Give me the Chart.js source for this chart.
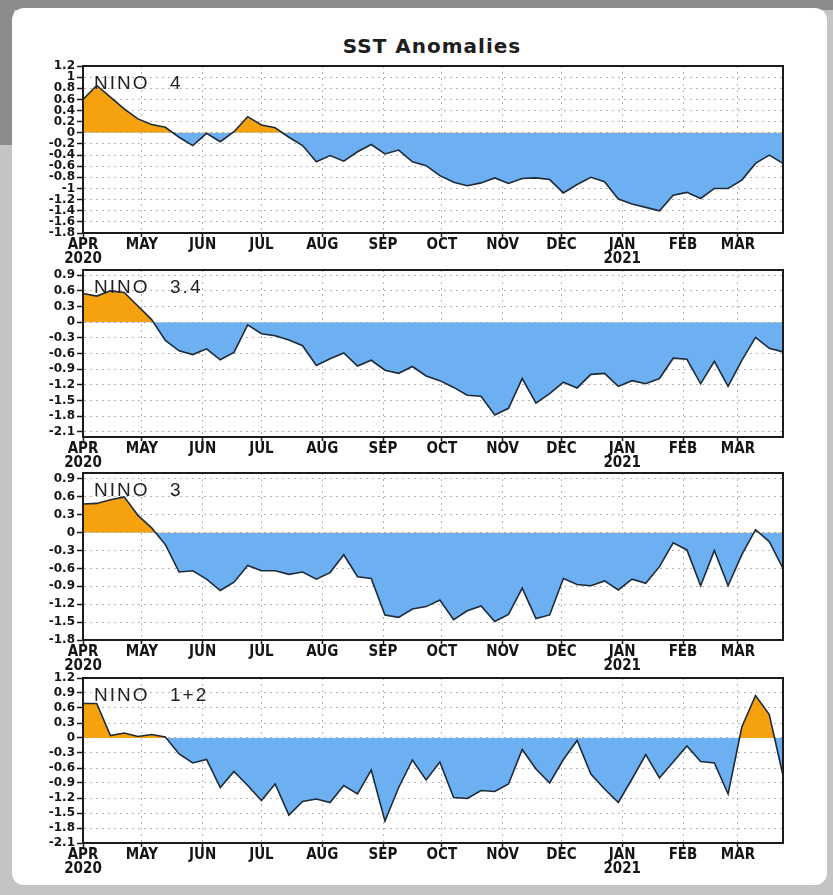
<!DOCTYPE html>
<html>
<head>
<meta charset="utf-8">
<script src="https://cdn.jsdelivr.net/npm/chart.js@4.4.1/dist/chart.umd.min.js"></script>
<style>
  html, body { margin: 0; padding: 0; }
  body { width: 833px; height: 895px; position: relative; overflow: hidden; background: #c4c4c4; }
  #topband { position: absolute; left: 0; top: 0; width: 833px; height: 10px; background: #8c8c8c; }
  #leftband { position: absolute; left: 0; top: 0; width: 14px; height: 145px; background: #8c8c8c; }
  #panel { position: absolute; left: 12px; top: 8px; width: 815px; height: 877px; background: #ffffff; border-radius: 12px; }
  #title { position: absolute; left: 0; top: 36px; width: 864px; text-align: center; font-family: 'DejaVu Sans', sans-serif; font-weight: bold; font-size: 20px; line-height: 20px; letter-spacing: 1px; color: #1e1e1e; }
  canvas { position: absolute; left: 0; }
  .lbl { position: absolute; left: 94px; font-family: 'Liberation Sans', Arial, sans-serif; font-size: 19px; line-height: 18px; letter-spacing: 2px; word-spacing: 3px; color: #222; white-space: pre; }
</style>
</head>
<body>
<div id="topband"></div>
<div id="leftband"></div>
<div id="panel"></div>
<div id="title">SST Anomalies</div>
<canvas id="c0" width="833" height="209"></canvas>
<canvas id="c1" width="833" height="209"></canvas>
<canvas id="c2" width="833" height="209"></canvas>
<canvas id="c3" width="833" height="207"></canvas>
<div class="lbl" id="l0"></div>
<div class="lbl" id="l1"></div>
<div class="lbl" id="l2"></div>
<div class="lbl" id="l3"></div>
<script>
// ---------- data ----------
// weekly values, weeks centred on Wednesdays from 1 Apr 2020 to 24 Mar 2021
const weekStart = '2020-04-01';
const panelNames = ['NINO  4', 'NINO  3.4', 'NINO  3', 'NINO  1+2'];

const nino4 = [0.6, 0.85, 0.64, 0.43, 0.25, 0.15, 0.1, -0.08, -0.23, -0.01, -0.16, 0.02,
  0.29, 0.14, 0.09, -0.08, -0.23, -0.52, -0.41, -0.51, -0.34, -0.21, -0.38, -0.31,
  -0.52, -0.59, -0.77, -0.89, -0.95, -0.9, -0.81, -0.91, -0.82, -0.81, -0.84, -1.08,
  -0.93, -0.8, -0.88, -1.19, -1.28, -1.34, -1.4, -1.12, -1.07, -1.18, -1.0, -1.0,
  -0.85, -0.55, -0.4, -0.55];

const nino34 = [0.55, 0.5, 0.6, 0.57, 0.31, 0.05, -0.35, -0.55, -0.62, -0.51, -0.72, -0.58,
  -0.05, -0.22, -0.26, -0.34, -0.45, -0.83, -0.7, -0.59, -0.84, -0.73, -0.92, -0.98,
  -0.85, -1.03, -1.12, -1.25, -1.4, -1.42, -1.78, -1.65, -1.08, -1.55, -1.37, -1.15,
  -1.26, -1.0, -0.98, -1.23, -1.12, -1.18, -1.08, -0.69, -0.71, -1.18, -0.75, -1.23,
  -0.73, -0.29, -0.5, -0.57];

const nino3 = [0.48, 0.49, 0.55, 0.6, 0.29, 0.08, -0.2, -0.66, -0.64, -0.78, -0.97, -0.83,
  -0.55, -0.64, -0.64, -0.7, -0.66, -0.78, -0.67, -0.37, -0.74, -0.77, -1.38, -1.42,
  -1.28, -1.24, -1.13, -1.46, -1.31, -1.23, -1.49, -1.37, -0.93, -1.44, -1.38, -0.77,
  -0.87, -0.89, -0.81, -0.96, -0.78, -0.85, -0.57, -0.17, -0.29, -0.89, -0.3, -0.89,
  -0.37, 0.05, -0.15, -0.6];

const nino12 = [0.69, 0.69, 0.05, 0.1, 0.03, 0.07, 0.02, -0.32, -0.5, -0.43, -0.99, -0.67,
  -0.95, -1.25, -0.92, -1.54, -1.27, -1.22, -1.29, -0.95, -1.12, -0.64, -1.66, -0.99,
  -0.44, -0.84, -0.48, -1.19, -1.21, -1.05, -1.07, -0.92, -0.23, -0.62, -0.9, -0.43,
  -0.05, -0.72, -1.02, -1.29, -0.82, -0.33, -0.8, -0.48, -0.16, -0.47, -0.5, -1.12,
  0.22, 0.85, 0.47, -0.75];

// x axis: days since 1 Apr 2020
const monthTickDays = [0, 30, 61, 91, 122, 153, 183, 214, 244, 275, 306, 334];
const monthTickLabels = [['APR', '2020'], 'MAY', 'JUN', 'JUL', 'AUG', 'SEP', 'OCT', 'NOV', 'DEC', ['JAN', '2021'], 'FEB', 'MAR'];
const xLastDay = 357;

// y axes
const yTicks4 = [1.2, 1, 0.8, 0.6, 0.4, 0.2, 0, -0.2, -0.4, -0.6, -0.8, -1, -1.2, -1.4, -1.6, -1.8];
const yTicks34 = [0.9, 0.6, 0.3, 0, -0.3, -0.6, -0.9, -1.2, -1.5, -1.8, -2.1];
const yTicks3 = [0.9, 0.6, 0.3, 0, -0.3, -0.6, -0.9, -1.2, -1.5, -1.8];
const yTicks12 = [1.2, 0.9, 0.6, 0.3, 0, -0.3, -0.6, -0.9, -1.2, -1.5, -1.8, -2.1];
const yRanges = [[-1.8, 1.2], [-2.2, 1.0], [-1.8, 1.0], [-2.1, 1.2]];

// ---------- layout (styles only) ----------
const plotTops = [66, 270, 473, 678];
const plotHeights = [167, 167, 167, 165];
const PAD_TOP = 8, X_AXIS_H = 34, PAD_LEFT = 10, PLOT_LEFT = 83, PLOT_RIGHT = 783, W = 833;

const series = [nino4, nino34, nino3, nino12];
const yTickSets = [yTicks4, yTicks34, yTicks3, yTicks12];

const frame = {
  id: 'frame',
  afterDraw(chart) {
    const a = chart.chartArea, ctx = chart.ctx;
    ctx.save();
    ctx.setLineDash([]);
    ctx.strokeStyle = '#1b1b1b';
    ctx.lineWidth = 2;
    ctx.strokeRect(a.left, a.top, a.right - a.left, a.bottom - a.top);
    ctx.restore();
  }
};

function fmt(v) {
  const r = Math.round(v * 10) / 10;
  return String(r);
}

series.forEach((vals, p) => {
  const cv = document.getElementById('c' + p);
  const h = PAD_TOP + plotHeights[p] + X_AXIS_H;
  cv.height = h;
  cv.style.top = (plotTops[p] - PAD_TOP) + 'px';
  cv.style.width = W + 'px';
  cv.style.height = h + 'px';

  const lbl = document.getElementById('l' + p);
  lbl.textContent = panelNames[p];
  lbl.style.top = (plotTops[p] + 7.5) + 'px';

  const pts = vals.map((v, i) => ({ x: i * 7, y: v }));
  const ticks = yTickSets[p];

  const gridStyle = {
    color: '#b4b4b4',
    lineWidth: 1,
    tickColor: '#1b1b1b',
    tickWidth: 1.5,
    tickBorderDash: []
  };

  new Chart(cv, {
    type: 'line',
    data: {
      datasets: [{
        data: pts,
        borderColor: '#1d2a38',
        borderWidth: 1.6,
        pointRadius: 0,
        tension: 0,
        fill: { target: { value: 0 }, above: '#F6A20E', below: '#6DB0F1' }
      }]
    },
    options: {
      responsive: false,
      animation: false,
      devicePixelRatio: 1,
      layout: { padding: { top: PAD_TOP, left: PAD_LEFT, right: W - PLOT_RIGHT, bottom: 0 } },
      plugins: { legend: { display: false }, tooltip: { enabled: false }, title: { display: false } },
      scales: {
        x: {
          type: 'linear',
          min: 0,
          max: xLastDay,
          afterFit(s) { s.height = X_AXIS_H; },
          afterBuildTicks(s) { s.ticks = monthTickDays.map(v => ({ value: v })); },
          ticks: {
            autoSkip: false,
            maxRotation: 0,
            padding: 1,
            color: '#151515',
            font: { family: "'Liberation Sans Narrow', 'DejaVu Sans Condensed', 'DejaVu Sans'", weight: 'bold', size: 15, lineHeight: 0.95 },
            callback: (v, i) => monthTickLabels[i]
          },
          grid: Object.assign({}, gridStyle, { tickLength: 4 }),
          border: { display: true, color: '#1b1b1b', width: 2, dash: [2, 4] }
        },
        y: {
          min: yRanges[p][0],
          max: yRanges[p][1],
          afterFit(s) { s.width = PLOT_LEFT - PAD_LEFT; },
          afterBuildTicks(s) { s.ticks = ticks.map(v => ({ value: v })); },
          ticks: {
            autoSkip: false,
            padding: 2,
            color: '#151515',
            font: { family: "'DejaVu Sans'", weight: 'bold', size: 12, lineHeight: 1 },
            callback: v => fmt(v)
          },
          grid: Object.assign({}, gridStyle, { tickLength: 6 }),
          border: { display: true, color: '#1b1b1b', width: 2, dash: [2, 4] }
        }
      }
    },
    plugins: [frame]
  });
});
</script>
</body>
</html>
